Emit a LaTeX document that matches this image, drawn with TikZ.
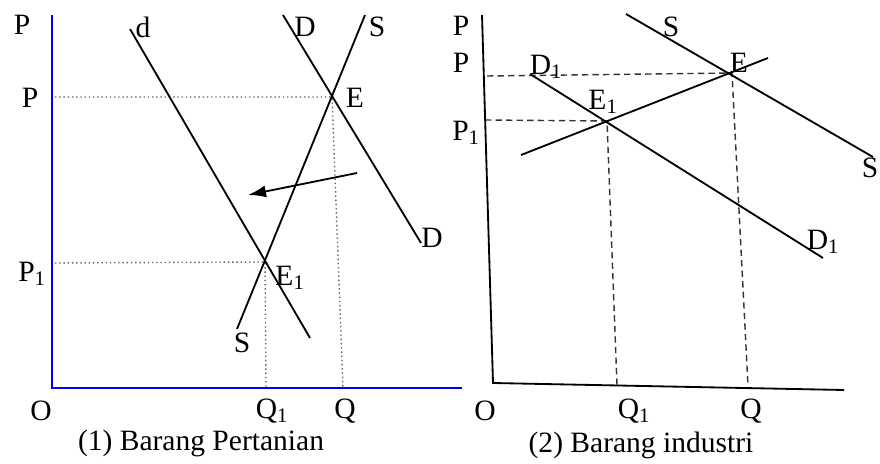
\documentclass[tikz,border=0pt]{standalone}
\usepackage{fontspec}
\setmainfont{Liberation Serif}
\usepackage{tikz}
\usetikzlibrary{arrows.meta, positioning}

\begin{document}
\begin{tikzpicture}[x=0.025cm,y=-0.025cm]
 \tikzstyle{lbl}=[inner sep=0pt,font=\fontsize{21}{23}\selectfont]
 \tikzstyle{capt}=[inner sep=0pt,font=\fontsize{21}{24}\selectfont]
 \tikzstyle{curve}=[line width=1.3pt,black]
 \tikzstyle{bluaxis}=[line width=1.7pt,blue]
 \tikzstyle{blkaxis}=[line width=1.3pt,black]
 \tikzstyle{guide}=[line width=1pt,gray!80!black,dotted]
 \tikzstyle{dguide}=[line width=1pt,black!80,dash pattern=on 4.5pt off 3pt]
 \useasboundingbox (0,0) rectangle (880,464);

 % (1) panel kiri
 \coordinate (oA) at (52,388);
 \coordinate (yA) at (52,15);
 \coordinate (xA) at (462,388);
 \coordinate (dTop) at (130,29);
 \coordinate (dBot) at (310,338);
 \coordinate (DTop) at (283,15);
 \coordinate (DBot) at (421,243);
 \coordinate (STop) at (365,15);
 \coordinate (SBot) at (237,329);
 \coordinate (eA) at (332,97);
 \coordinate (eOneA) at (265,262);
 \coordinate (pA) at (55,97);
 \coordinate (pOneA) at (55,263);
 \coordinate (qA) at (343,388);
 \coordinate (qOneA) at (266,388);
 \coordinate (arrS) at (357,173);
 \coordinate (arrE) at (248,195);

 \draw[guide] (pA) -- (eA) -- (qA);
 \draw[guide] (pOneA) -- (eOneA) -- (qOneA);
 \draw[bluaxis] (yA) -- (oA) -- (xA);
 \draw[curve] (dTop) -- (dBot);
 \draw[curve] (DTop) -- (DBot);
 \draw[curve] (STop) -- (SBot);
 \draw[curve,-{Latex[length=4.5mm,width=3mm]}] (arrS) -- (arrE);

 \node (pTopA) [lbl] at (22,25) {P};
 \node (pLblA) [lbl] at (30,98) {P};
 \node (pOneLblA) [lbl] at (32,274) {P\textsubscript{1}};
 \node (dLbl) [lbl] at (143,27) {d};
 \node (DLblTop) [lbl] at (305,27) {D};
 \node (SLblTop) [lbl] at (377,27) {S};
 \node (eLblA) [lbl] at (355,98) {E};
 \node (DLblBot) [lbl] at (432,238) {D};
 \node (eOneLblA) [lbl] at (290,278) {E\textsubscript{1}};
 \node (SLblBot) [lbl] at (242,343) {S};
 \node (oLblA) [lbl] at (41,411) {O};
 \node (qOneLblA) [lbl] at (272,411) {Q\textsubscript{1}};
 \node (qLblA) [lbl] at (345,411) {Q};
 \node (captA) [capt] at (201,443) {(1) Barang Pertanian};

 % (2) panel kanan
 \coordinate (oB) at (493,383);
 \coordinate (yB) at (482,15);
 \coordinate (xB) at (844,390);
 \coordinate (sTopB) at (626,14);
 \coordinate (sBotB) at (873,157);
 \coordinate (dTopB) at (530,74);
 \coordinate (dBotB) at (823,258);
 \coordinate (upLo) at (521,155);
 \coordinate (upHi) at (768,58);
 \coordinate (eB) at (732,73);
 \coordinate (eOneB) at (607,121);
 \coordinate (pB) at (487,76);
 \coordinate (pOneB) at (485,120);
 \coordinate (qB) at (748,386);
 \coordinate (qOneB) at (617,385);

 \draw[dguide] (pB) -- (eB) -- (qB);
 \draw[dguide] (pOneB) -- (eOneB) -- (qOneB);
 \draw[blkaxis] (yB) -- (oB) -- (xB);
 \draw[curve] (sTopB) -- (sBotB);
 \draw[curve] (dTopB) -- (dBotB);
 \draw[curve] (upLo) -- (upHi);

 \node (pTopB) [lbl] at (461,26) {P};
 \node (pLblB) [lbl] at (461,63) {P};
 \node (pOneLblB) [lbl] at (466,133) {P\textsubscript{1}};
 \node (dOneLblTop) [lbl] at (546,67) {D\textsubscript{1}};
 \node (sLblTopB) [lbl] at (671,27) {S};
 \node (eLblB) [lbl] at (739,63) {E};
 \node (eOneLblB) [lbl] at (603,102) {E\textsubscript{1}};
 \node (sLblBotB) [lbl] at (870,168) {S};
 \node (dOneLblBot) [lbl] at (823,242) {D\textsubscript{1}};
 \node (oLblB) [lbl] at (485,411) {O};
 \node (qOneLblB) [lbl] at (634,411) {Q\textsubscript{1}};
 \node (qLblB) [lbl] at (751,411) {Q};
 \node (captB) [capt] at (641,445) {(2) Barang industri};
\end{tikzpicture}
\end{document}
